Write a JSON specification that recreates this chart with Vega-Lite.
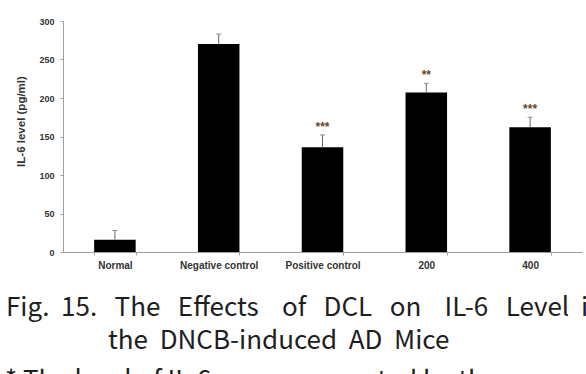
{
  "$schema": "https://vega.github.io/schema/vega-lite/v6.json",
  "autosize": {"type": "none"},
  "padding": {"left": 63, "top": 21, "right": 4, "bottom": 122},
  "width": 519,
  "height": 231,
  "background": "white",
  "config": {
    "view": {"stroke": null},
    "axis": {
      "grid": false,
      "domainColor": "#a0a0a0",
      "tickColor": "#a0a0a0",
      "tickSize": 3,
      "labelColor": "#333333",
      "labelFont": "Liberation Sans",
      "labelFontWeight": "bold",
      "labelFontSize": 9,
      "titleColor": "#333333",
      "titleFont": "Liberation Sans",
      "titleFontWeight": "bold",
      "titleFontSize": 11.5
    }
  },
  "layer": [
    {
      "data": {"name": "il6", "values": [
        {"group": "Normal", "mean": 16, "upper": 28, "sig": ""},
        {"group": "Negative control", "mean": 270, "upper": 283, "sig": ""},
        {"group": "Positive control", "mean": 136, "upper": 152, "sig": "***"},
        {"group": "200", "mean": 207, "upper": 219, "sig": "**"},
        {"group": "400", "mean": 162, "upper": 175, "sig": "***"}
      ]},
      "encoding": {
        "x": {
          "field": "group", "type": "nominal", "sort": null,
          "scale": {"paddingInner": 0.6, "paddingOuter": 0.3},
          "axis": {"title": null, "labelAngle": 0, "tickBand": "extent", "labelPadding": 5, "labelFontSize": 10}
        },
        "y": {
          "field": "mean", "type": "quantitative",
          "scale": {"domain": [0, 300], "nice": false},
          "axis": {"title": "IL-6 level (pg/ml)", "values": [0, 50, 100, 150, 200, 250, 300], "labelOverlap": false, "labelPadding": 6, "titlePadding": 12, "titleY": 100}
        }
      },
      "layer": [
        {
          "mark": {"type": "bar", "color": "black"}
        },
        {
          "mark": {"type": "rule", "color": "#666666", "strokeWidth": 1},
          "encoding": {"y2": {"field": "upper"}}
        },
        {
          "mark": {"type": "tick", "orient": "horizontal", "color": "#666666", "size": 5, "thickness": 1},
          "encoding": {
            "y": {"field": "upper", "type": "quantitative", "title": "IL-6 level (pg/ml)",
              "axis": {"title": "IL-6 level (pg/ml)", "values": [0, 50, 100, 150, 200, 250, 300], "labelOverlap": false, "labelPadding": 6, "titlePadding": 12, "titleY": 100}}
          }
        },
        {
          "mark": {"type": "text", "color": "#6e4420", "font": "Liberation Sans", "fontWeight": "bold", "fontSize": 12, "dy": -8},
          "encoding": {
            "y": {"field": "upper", "type": "quantitative", "title": "IL-6 level (pg/ml)",
              "axis": {"title": "IL-6 level (pg/ml)", "values": [0, 50, 100, 150, 200, 250, 300], "labelOverlap": false, "labelPadding": 6, "titlePadding": 12, "titleY": 100}},
            "text": {"field": "sig"}
          }
        }
      ]
    },
    {
      "data": {"values": [{"caption": "Fig.\u00a0\u00a015.\u00a0\u00a0\u00a0The\u00a0\u00a0\u00a0Effects\u00a0\u00a0\u00a0\u00a0of\u00a0\u00a0\u00a0DCL\u00a0\u00a0\u00a0on\u00a0\u00a0\u00a0\u00a0IL-6\u00a0\u00a0\u00a0Level\u00a0\u00a0in"}]},
      "mark": {"type": "text", "align": "left", "baseline": "alphabetic", "font": "Noto Sans CJK KR", "fontSize": 26, "color": "#1e1e1e"},
      "encoding": {"text": {"field": "caption"}, "x": {"value": -57}, "y": {"value": 295}}
    },
    {
      "data": {"values": [{"caption": "the\u00a0\u00a0DNCB-induced\u00a0\u00a0AD\u00a0\u00a0Mice"}]},
      "mark": {"type": "text", "align": "left", "baseline": "alphabetic", "font": "Noto Sans CJK KR", "fontSize": 26, "color": "#1e1e1e"},
      "encoding": {"text": {"field": "caption"}, "x": {"value": 45}, "y": {"value": 328}}
    },
    {
      "data": {"values": [{"caption": "* The level of IL-6 was represented by the mean \u00b1 multiple"}]},
      "mark": {"type": "text", "align": "left", "baseline": "alphabetic", "font": "Noto Sans CJK KR", "fontSize": 26, "color": "#1e1e1e"},
      "encoding": {"text": {"field": "caption"}, "x": {"value": -58}, "y": {"value": 368}}
    }
  ]
}
